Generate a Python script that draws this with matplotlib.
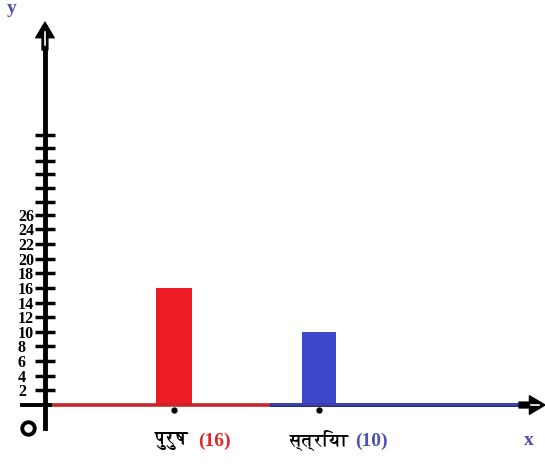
import matplotlib
matplotlib.use("Agg")
import matplotlib.pyplot as plt

# data
categories = ["पुरुष", "स्त्रिया"]
values = [16, 10]
bar_colors = ["#ed1c24", "#3f48cc"]
label_colors = ["#e0262b", "#4a52b8"]
tick_values = list(range(2, 28, 2))
tick_labels = [str(v) for v in tick_values]
extra_ticks = [27.8, 29.7, 31.6, 33.4, 35.1, 36.9]   # unlabelled marks above 26

serif = ["Liberation Serif", "FreeSerif", "DejaVu Serif"]
deva = ["FreeSerif", "Liberation Serif", "DejaVu Sans"]

fig = plt.figure(figsize=(5.45, 4.66), dpi=100)
ax = fig.add_axes([0, 0, 1, 1])
ax.set_xlim(-0.2, 3.559)
ax.set_ylim(-8.33, 55.33)

xpos = [1, 2]
y_axis_x = 0.11
arrow = dict(arrowstyle="simple,head_width=0.95,head_length=0.8,tail_width=0.3",
             color="black", mutation_scale=14, shrinkA=0, shrinkB=0)

# bars
ax.bar(xpos, values, width=[0.25, 0.235], color=bar_colors, zorder=3)

# x axis, red half and blue half
ax.plot([y_axis_x, 1.66], [0, 0], color="#c1272d", lw=2.6, zorder=4, solid_capstyle="butt")
ax.plot([1.66, 3.4], [0, 0], color="#1e2270", lw=2.8, zorder=4, solid_capstyle="butt")
ax.plot([1.66, 3.4], [0.12, 0.12], color="#3e47b0", lw=1.8, zorder=4, solid_capstyle="butt")
ax.annotate("", xy=(3.559, 0), xytext=(3.38, 0), arrowprops=arrow, zorder=5)
ax.plot([3.46, 3.52], [0, 0], color="white", lw=1.2, zorder=6)

# small dots under the bars
ax.plot(xpos, [-0.7, -0.7], "o", color="black", ms=3.5, zorder=5)

# y axis with ticks
for s in ["top", "right", "bottom"]:
    ax.spines[s].set_visible(False)
ax.spines["left"].set_position(("data", y_axis_x))
ax.spines["left"].set_linewidth(3.5)
ax.spines["left"].set_bounds(-3.1, 50.5)
ax.set_xticks([])
ax.set_yticks(tick_values + extra_ticks)
ax.set_yticklabels(tick_labels + [""] * len(extra_ticks))
ax.tick_params(axis="y", direction="inout", length=14.5, width=2.5, pad=12.2)
for lab in ax.get_yticklabels():
    lab.set_family(serif)
    lab.set_fontweight("bold")
    lab.set_fontsize(11.5)
    lab.set_horizontalalignment("left")
ax.plot([-0.045, 0.145], [0, 0], color="black", lw=2.8, zorder=5)

# arrow on top of y axis
ax.annotate("", xy=(y_axis_x, 52.3), xytext=(y_axis_x, 48.5), arrowprops=arrow, zorder=5)
ax.plot([y_axis_x, y_axis_x], [49.2, 51.0], color="white", lw=1.2, zorder=6)

# origin and axis names
ax.plot([-0.01], [-3.1], "o", ms=9, mfc="white", mec="black", mew=2.8, zorder=5)
ax.text(-0.117, 54.2, "y", color="#4b4fb3", fontsize=14, fontweight="bold",
        family=serif, ha="center", va="center")
ax.text(3.45, -4.9, "x", color="#4b4fb3", fontsize=14, fontweight="bold",
        family=serif, ha="center", va="center")

# category labels
name_size = [14, 13]
name_dx = [-0.13, -0.2]
num_dx = [0.165, 0.25]
for x, name, v, c, sz, dn, dv in zip(xpos, categories, values, label_colors,
                                     name_size, name_dx, num_dx):
    ax.text(x + dn, -4.9, name, fontsize=sz, fontweight="bold", family=deva,
            ha="left", va="center", color="black")
    ax.text(x + dv, -4.9, "(%d)" % v, fontsize=14, fontweight="bold", family=serif,
            ha="left", va="center", color=c)

fig.savefig("out.png")
